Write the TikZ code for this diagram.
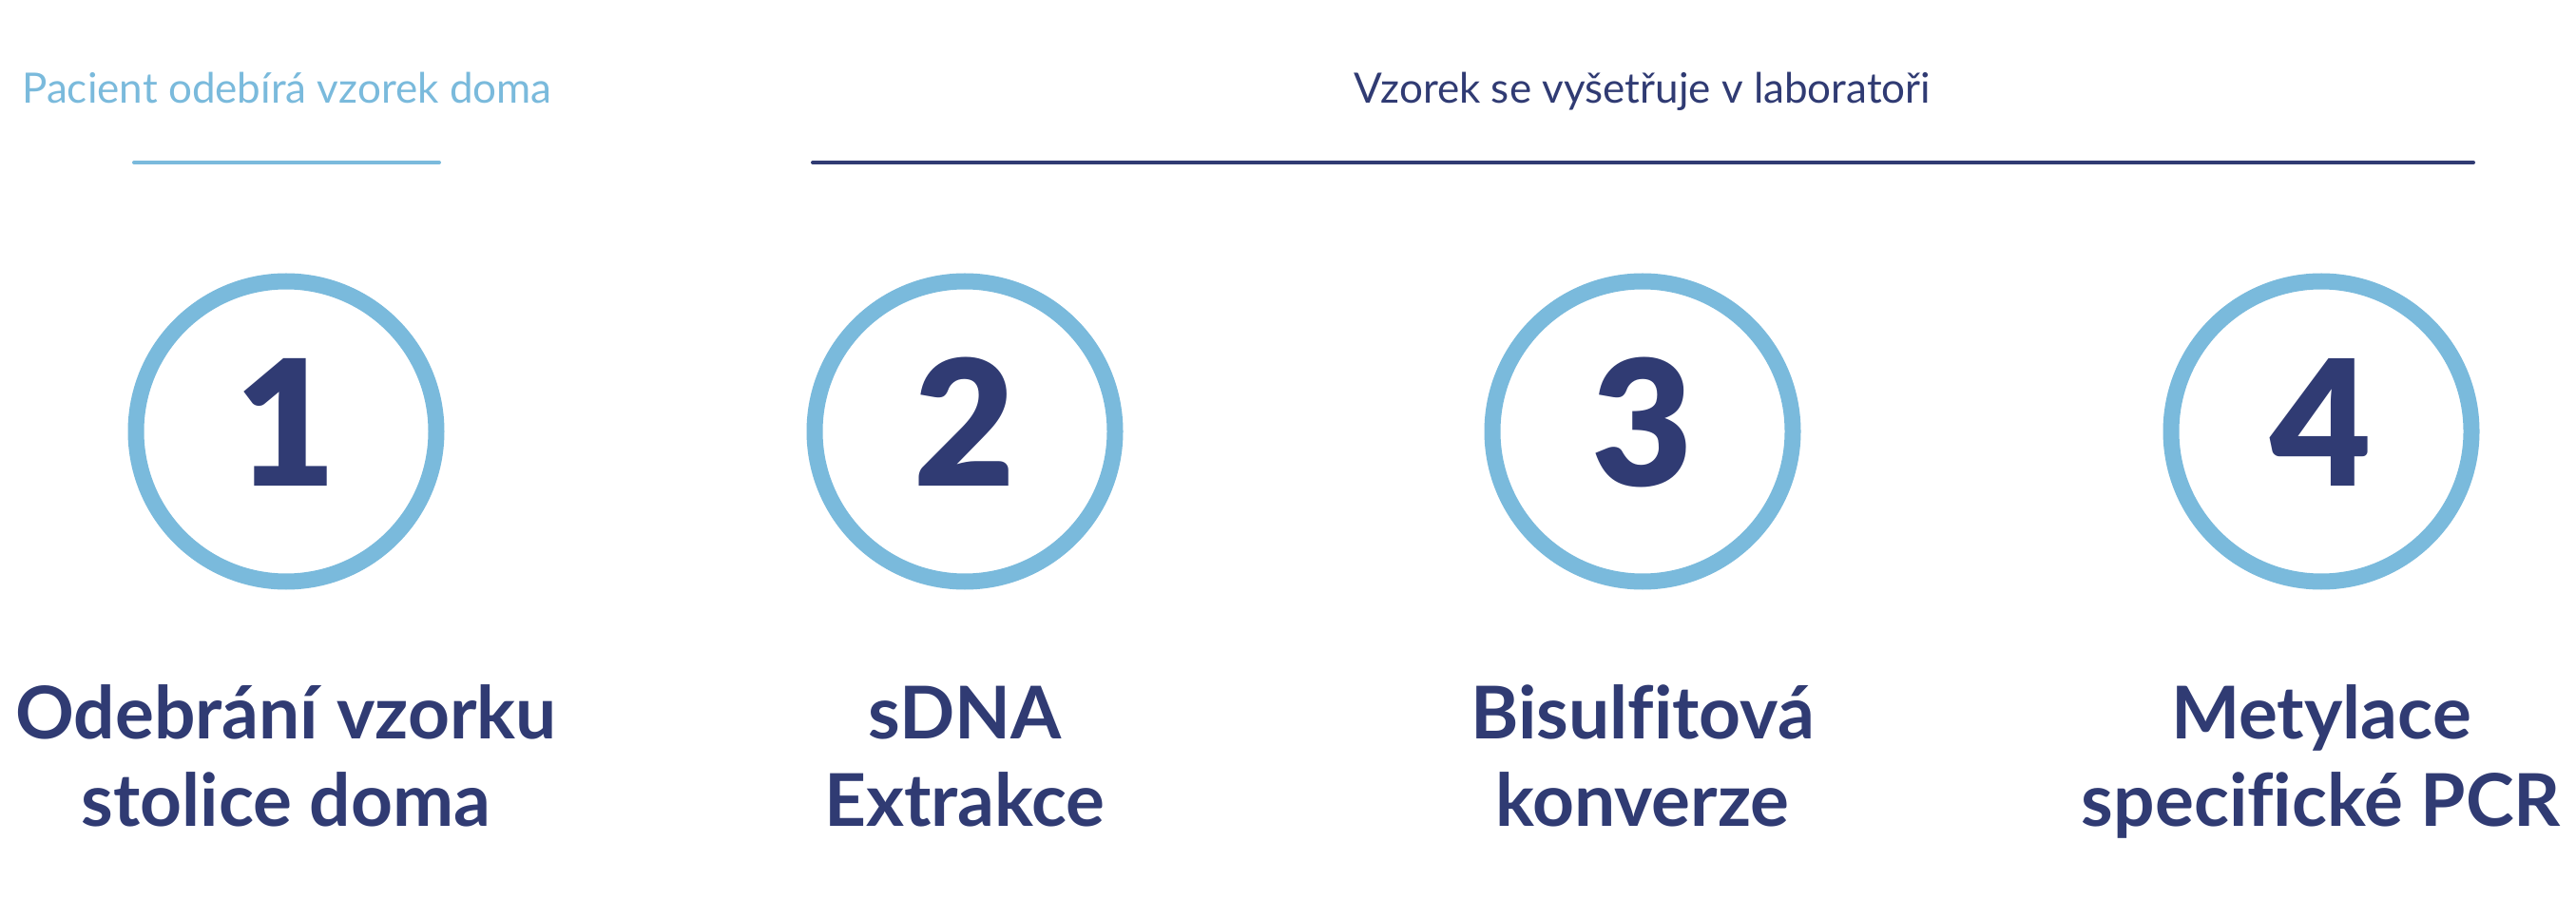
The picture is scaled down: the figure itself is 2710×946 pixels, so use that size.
\documentclass[tikz,border=0pt]{standalone}
\usepackage{fontspec}
\setmainfont[Ligatures=NoCommon]{Lato}
\newfontfamily\numfont{Lato Black}
\definecolor{lblue}{HTML}{7ABADC}
\definecolor{navy}{HTML}{303B73}
\begin{document}
\begin{tikzpicture}[x=0.5pt,y=-0.5pt,
  ring/.style={draw=lblue,line width=8.5pt,circle,minimum size=316*0.5pt,inner sep=0pt},
  num/.style={anchor=base,text=navy,font=\fontsize{92}{92}\numfont,inner sep=0pt},
  lbl/.style={anchor=base,text=navy,font=\fontsize{38.3}{46}\selectfont\bfseries,inner sep=0pt},
  head/.style={anchor=base,font=\fontsize{22}{26}\selectfont,inner sep=0pt},
  rule/.style={line width=2pt,line cap=round}]
\useasboundingbox (0,0) rectangle (2710,946);
\fill[white] (0,0) rectangle (2710,946);
% headers
\node[head,text=lblue] (h1) at (302,109) {Pacient odebírá vzorek doma};
\node[head,text=navy] (h2) at (1728,109) {Vzorek se vyšetřuje v laboratoři};
\coordinate (r1a) at (141,171); \coordinate (r1b) at (462,171);
\coordinate (r2a) at (855,171); \coordinate (r2b) at (2602,171);
\draw[rule,lblue] (r1a) -- (r1b);
\draw[rule,navy] (r2a) -- (r2b);
% circles
\foreach \i/\x in {1/301,2/1015,3/1728,4/2442}{
  \node[ring] (c\i) at (\x,454) {};
  \node[num] (n\i) at (\x,512) {\i};
}
% labels
\node[lbl] (l1a) at (301,777) {Odebrání vzorku};
\node[lbl] (l1b) at (301,869) {stolice doma};
\node[lbl] (l2a) at (1015,777) {sDNA};
\node[lbl] (l2b) at (1015,869) {Extrakce};
\node[lbl] (l3a) at (1728,777) {Bisulfitová};
\node[lbl] (l3b) at (1728,869) {konverze};
\node[lbl] (l4a) at (2442,777) {Metylace};
\node[lbl] (l4b) at (2442,869) {specifické PCR};
\end{tikzpicture}
\end{document}
